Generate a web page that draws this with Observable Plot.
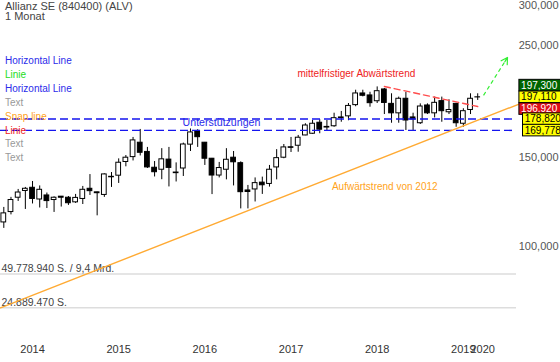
<!DOCTYPE html>
<html><head><meta charset="utf-8">
<script src="https://cdn.jsdelivr.net/npm/d3@7"></script>
<script src="https://cdn.jsdelivr.net/npm/@observablehq/plot@0.6"></script>
<style>
body{margin:0;background:#fff;font-family:Arial,"Liberation Sans",sans-serif;}
#wrap{position:relative;width:560px;height:362px;overflow:hidden;background:#fff;}
#wrap svg{position:absolute;left:0;top:0;}
.t{position:absolute;left:5px;white-space:nowrap;}
</style></head><body><div id="wrap"></div>
<script>
// ---- data ----
const months = ["2013-09","2013-10","2013-11","2013-12",
"2014-01","2014-02","2014-03","2014-04","2014-05","2014-06","2014-07","2014-08","2014-09","2014-10","2014-11","2014-12",
"2015-01","2015-02","2015-03","2015-04","2015-05","2015-06","2015-07","2015-08","2015-09","2015-10","2015-11","2015-12",
"2016-01","2016-02","2016-03","2016-04","2016-05","2016-06","2016-07","2016-08","2016-09","2016-10","2016-11","2016-12",
"2017-01","2017-02","2017-03","2017-04","2017-05","2017-06","2017-07","2017-08","2017-09","2017-10","2017-11","2017-12",
"2018-01","2018-02","2018-03","2018-04","2018-05","2018-06","2018-07","2018-08","2018-09","2018-10","2018-11","2018-12",
"2019-01","2019-02","2019-03"];
const open  = [111.6,117.0,124.9,128.8,130.7,123.9,126.2,123.6,125.5,124.9,122.3,124.2,130.1,128.0,126.5,137.4,138.1,147.0,150.3,160.5,153.9,143.2,141.9,148.6,140.1,142.7,159.1,169.2,160.5,149.2,138.2,141.9,149.9,146.2,129.1,129.7,133.8,133.0,143.4,149.9,157.2,158.3,165.9,167.2,175.8,172.5,173.0,180.1,181.0,190.5,200.9,199.1,193.9,204.6,191.6,183.5,196.1,180.1,175.4,190.2,183.5,194.0,184.4,191.6,175.0,186.3,197.4];
const high  = [119.5,125.1,129.7,130.9,134.5,131.8,127.6,125.4,125.6,125.6,126.8,131.5,138.8,128.1,139.3,140.1,149.1,151.4,164.4,170.5,157.1,147.3,156.2,157.1,146.4,160.2,170.9,170.3,160.7,149.4,146.7,156.2,154.2,147.1,132.1,136.7,137.2,144.7,155.5,159.2,164.4,165.9,175.0,177.6,178.2,177.6,183.6,185.1,191.9,203.9,203.9,202.0,207.0,205.5,200.6,197.6,202.0,183.6,191.6,191.6,197.6,197.6,195.2,192.1,187.4,200.6,200.6];
const low   = [108.6,115.5,122.8,118.4,121.4,119.2,118.9,116.8,119.7,120.6,121.7,121.1,126.2,115.0,125.1,130.9,133.3,143.8,147.7,151.1,142.7,137.3,135.6,131.2,134.2,137.6,154.2,157.1,144.7,126.7,136.7,135.5,131.8,118.7,118.7,122.5,126.8,131.1,135.5,149.2,153.5,153.7,165.7,166.8,167.2,169.7,172.2,176.2,177.4,189.1,197.8,188.7,191.9,182.5,175.4,175.4,169.7,169.7,174.4,182.5,179.7,176.2,182.5,172.2,172.2,182.5,194.6];
const close = [116.3,123.6,127.9,130.1,124.2,129.5,123.0,124.9,124.9,121.8,124.8,129.5,128.7,127.5,138.9,137.1,146.5,149.9,162.2,153.3,143.4,140.3,148.8,143.1,139.7,159.2,168.2,164.6,149.2,138.2,143.0,148.5,146.8,128.1,128.2,133.5,132.2,141.9,149.6,157.1,156.8,164.2,173.6,175.0,170.3,172.0,179.5,179.6,189.8,200.9,198.8,192.2,203.0,192.4,183.5,196.1,177.6,178.4,189.3,183.5,192.5,185.3,186.3,175.4,185.3,196.1,197.3];

const yearLabels = ["2014","2015","2016","2017","2018","2019"];
const lastYearLabel = "2020";
const priceTicks = [100,150,250,300];
const supportLevels = [178.82, 169.778];
const downtrend = [{m:"2018-02", v:207.4},{m:"2019-03", v:189.3}];
const uptrend = [{i:-0.46, v:75.6},{i:77.53, v:206.2}];
const arrowUp = [{i1:66.81, v1:199.1, i2:70.15, v2:236.7}];
const notes = [
  {label:"Unterstützungen", i:24.9, v:176.0, color:"#2b2bea", size:10.6},
  {label:"mittelfristiger Abwärtstrend", i:40.9, v:220.0, color:"#ee2222", size:10},
  {label:"Aufwärtstrend von 2012", i:45.7, v:131.1, color:"#ffa31a", size:10}
];
const boxValues = [197.3, 197.11, 196.92, 178.82, 169.778];
const boxFills  = ["#006400","#ffff00","#e0101a","#ffff00","#ffff00"];
const boxText   = ["#ffffff","#000000","#ffffff","#000000","#000000"];
const volumeLevels = [49778940, 24889470];
const volumeLabels = ["49.778.940 S. / 9,4 Mrd.", "24.889.470 S."];
const titleLines = ["Allianz SE (840400) (ALV)", "1 Monat"];
const legendItems = ["Horizontal Line","Linie","Horizontal Line","Text","Snap line","Linie","Text","Text"];
const legendColors = ["#2b2bea","#22dd22","#2b2bea","#999999","#ffa31a","#ee2222","#999999","#999999"];

// ---- build ----
const de = d3.formatLocale({decimal:",", thousands:".", grouping:[3], currency:["","€"]});
const fmt3 = de.format(".3f");
const idx = m => months.indexOf(m);
const candles = months.map((m,i)=>({i, m, open:open[i], high:high[i], low:low[i], close:close[i]}));
const yearTicks = yearLabels.map(y=>({label:y, i:idx(y+"-01")}));
const FONT = "Arial, 'Liberation Sans', sans-serif";

const boxShift = [-12,-0.5,11,0,0];
const boxDx = [4.6,4.6,4.6,8.2,8.2];

const noteMarks = notes.map(n=>Plot.text([n],{x:"i", y:"v", text:"label", fill:"color", textAnchor:"start", fontSize:n.size}));

const main = Plot.plot({
  width:560, height:362,
  marginLeft:0, marginRight:44, marginTop:0, marginBottom:18,
  style:{background:"transparent", fontFamily:FONT},
  x:{type:"linear", domain:[-0.46,77.53], range:[0,560], axis:null},
  y:{type:"log", domain:[100,300], range:[246,5], axis:null},
  marks:[
    Plot.text(priceTicks,{y:d=>d, text:d=>fmt3(d), frameAnchor:"right", textAnchor:"end", dx:42, fontSize:11, fill:"#555"}),
    noteMarks[0],
    Plot.ruleX(candles,{x:"i", y1:"low", y2:"high", stroke:"black", strokeWidth:1}),
    Plot.rect(candles,{x1:d=>d.i-0.33, x2:d=>d.i+0.33, y1:"open", y2:"close",
      fill:d=>d.close>=d.open?"white":"black", stroke:"black", strokeWidth:1}),
    Plot.ruleY(supportLevels,{stroke:"#1515ee", strokeDasharray:"8,4", strokeWidth:1.4}),
    Plot.line(uptrend,{x:"i", y:"v", stroke:"#ffaa33", strokeWidth:1.4}),
    Plot.line(downtrend,{x:d=>idx(d.m), y:"v", stroke:"#ff4d4d", strokeDasharray:"6,4", strokeWidth:1.4}),
    Plot.link(arrowUp,{x1:"i1", y1:"v1", x2:"i2", y2:"v2", stroke:"#33ee33", strokeDasharray:"4,3", strokeWidth:1.2}),
    Plot.arrow(arrowUp,{x1:"i1", y1:"v1", x2:"i2", y2:"v2", stroke:"#33ee33", strokeWidth:1.2, headLength:9, bend:0, insetStart:40}),
    noteMarks[1], noteMarks[2],
    Plot.text(yearTicks,{x:"i", text:"label", frameAnchor:"bottom", dy:8, fontSize:11, fill:"#333"}),
    Plot.text([lastYearLabel],{x:()=>months.length-1, text:d=>d, frameAnchor:"bottom", dy:8, dx:5, fontSize:11, fill:"#333"}),
    ...boxValues.map((v,k)=>Plot.text([v],{y:d=>d, text:d=>fmt3(d), frameAnchor:"right", textAnchor:"start",
       dx:boxDx[k], dy:boxShift[k], fontSize:10, fill:boxText[k]}))
  ]
});

const vol = Plot.plot({
  width:560, height:362,
  marginLeft:0, marginRight:44, marginTop:0, marginBottom:18,
  style:{background:"transparent", fontFamily:FONT},
  x:{domain:[0,1], axis:null},
  y:{type:"linear", domain:[0,49778940], range:[341,273.5], axis:null},
  marks:[
    Plot.ruleY(volumeLevels,{stroke:"#dddddd", strokeWidth:1.5}),
    Plot.text(volumeLevels,{y:d=>d, text:(d,i)=>volumeLabels[i], frameAnchor:"left", textAnchor:"start", dx:1, dy:-5.5, fontSize:10.5, fill:"#444"})
  ]
});

const wrap = document.getElementById("wrap");
wrap.appendChild(vol);
wrap.appendChild(main);

// background boxes behind the value labels
const texts = Array.from(main.querySelectorAll("text"));
boxValues.forEach((v,k)=>{
  const label = fmt3(v);
  const el = texts.filter(t=>t.textContent===label).pop();
  if(!el) return;
  const b = el.getBBox();
  const cy = b.y + b.height/2;
  const r = document.createElementNS("http://www.w3.org/2000/svg","rect");
  r.setAttribute("x", b.x-2.2);
  r.setAttribute("y", cy-5.8);
  r.setAttribute("width", 60);
  r.setAttribute("height", 11.6);
  r.setAttribute("fill", boxFills[k]);
  r.setAttribute("stroke", "#000");
  r.setAttribute("stroke-width", 1);
  const tr = el.getAttribute("transform");
  if(tr) r.setAttribute("transform", tr);
  el.parentNode.insertBefore(r, el);
});

// title and drawing-tool legend
titleLines.forEach((s,k)=>{
  const d=document.createElement("div");
  d.className="t";
  d.style.cssText=`top:${k===0?0.5:11}px;font-size:11px;line-height:10px;color:#444;`;
  d.textContent=s;
  wrap.appendChild(d);
});
legendItems.forEach((s,k)=>{
  const d=document.createElement("div");
  d.className="t";
  d.style.cssText=`top:${54+k*13.9}px;font-size:10px;line-height:14px;color:${legendColors[k]};`;
  d.textContent=s;
  wrap.appendChild(d);
});
</script></body></html>
